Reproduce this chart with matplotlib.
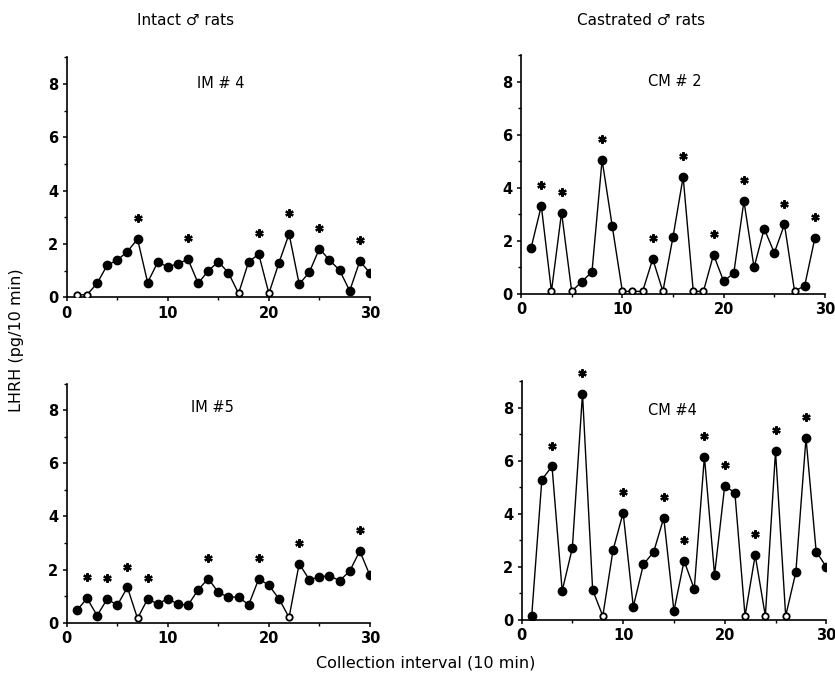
import matplotlib
matplotlib.use("Agg")
import numpy as np
import matplotlib.pyplot as plt
from matplotlib.transforms import offset_copy
from matplotlib.ticker import MultipleLocator

# LHRH release per 10 min collection interval
im4_x = list(range(1, 31))
im4_y = [0.1, 0.1, 0.53, 1.21, 1.40, 1.72, 2.19, 0.56, 1.32, 1.15,
         1.26, 1.43, 0.53, 1.00, 1.34, 0.92, 0.15, 1.34, 1.62, 0.15,
         1.30, 2.38, 0.50, 0.94, 1.83, 1.40, 1.02, 0.25, 1.36, 0.92]
im4_open = [1, 2, 17, 20]
im4_peaks = [7, 12, 19, 22, 25, 29]

cm2_x = list(range(1, 30))
cm2_y = [1.75, 3.32, 0.1, 3.07, 0.1, 0.47, 0.83, 5.05, 2.56, 0.1,
         0.1, 0.1, 1.32, 0.1, 2.15, 4.41, 0.1, 0.1, 1.48, 0.48,
         0.79, 3.50, 1.00, 2.46, 1.55, 2.62, 0.1, 0.32, 2.10]
cm2_open = [3, 5, 10, 11, 12, 14, 17, 18, 27]
cm2_peaks = [2, 4, 8, 13, 16, 19, 22, 26, 29]

im5_x = list(range(1, 31))
im5_y = [0.46, 0.92, 0.27, 0.89, 0.66, 1.33, 0.16, 0.89, 0.71, 0.90,
         0.70, 0.66, 1.24, 1.66, 1.14, 0.96, 0.97, 0.67, 1.65, 1.41,
         0.90, 0.20, 2.22, 1.62, 1.72, 1.77, 1.58, 1.94, 2.70, 1.78]
im5_open = [7, 22]
im5_peaks = [2, 4, 6, 8, 14, 19, 23, 29]

cm4_x = list(range(1, 31))
cm4_y = [0.15, 5.29, 5.79, 1.10, 2.71, 8.53, 1.13, 0.15, 2.62, 4.04,
         0.50, 2.10, 2.56, 3.85, 0.34, 2.23, 1.17, 6.16, 1.70, 5.06,
         4.79, 0.15, 2.44, 0.15, 6.36, 0.15, 1.80, 6.86, 2.58, 2.00]
cm4_open = [8, 22, 24, 26]
cm4_peaks = [3, 6, 10, 14, 16, 18, 20, 23, 25, 28]

panels = [
    ("IM # 4", im4_x, im4_y, im4_open, im4_peaks, [0.080, 0.5606, 0.363, 0.355], (15.2, 8.0)),
    ("CM # 2", cm2_x, cm2_y, cm2_open, cm2_peaks, [0.624, 0.5657, 0.364, 0.353], (15.2, 8.0)),
    ("IM #5", im5_x, im5_y, im5_open, im5_peaks, [0.080, 0.0802, 0.363, 0.3533], (14.4, 8.1)),
    ("CM #4", cm4_x, cm4_y, cm4_open, cm4_peaks, [0.6246, 0.0842, 0.365, 0.3528], (14.9, 7.9)),
]

fig = plt.figure(figsize=(8.35, 6.77), dpi=100)

for name, xs, ys, opn, peaks, rect, lab in panels:
    ax = fig.add_axes(rect)
    ax.plot(xs, ys, color="black", lw=1.0, zorder=2)
    xs_f = [x for x in xs if x not in opn]
    ys_f = [y for x, y in zip(xs, ys) if x not in opn]
    ax.plot(xs_f, ys_f, ls="none", marker="o", ms=6, color="black", zorder=3)
    ys_o = [ys[xs.index(x)] for x in opn]
    ax.plot(opn, ys_o, ls="none", marker="o", ms=4.6, mfc="white", mec="black",
            mew=1.3, zorder=4)
    # asterisks above the peaks
    trans = offset_copy(ax.transData, fig=fig, x=0, y=15, units="points")
    ys_p = [ys[xs.index(x)] for x in peaks]
    ax.plot(peaks, ys_p, ls="none", marker=(6, 2, 0), ms=6, mew=1.6,
            color="black", transform=trans, clip_on=False)
    ax.text(lab[0], lab[1], name, ha="center", va="center", fontsize=10.5)

    ax.set_xlim(0, 30)
    ax.set_ylim(0, 9)
    ax.set_xticks([0, 10, 20, 30])
    ax.set_yticks([0, 2, 4, 6, 8])
    ax.xaxis.set_minor_locator(MultipleLocator(5))
    ax.yaxis.set_minor_locator(MultipleLocator(1))
    for s in ["top", "right"]:
        ax.spines[s].set_visible(False)
    ax.spines["left"].set_linewidth(1.2)
    ax.spines["bottom"].set_linewidth(1.2)
    ax.tick_params(which="major", direction="out", length=3, width=1.1,
                   labelsize=10.5, pad=3)
    ax.tick_params(which="minor", direction="out", length=2, width=1)
    for t in ax.get_xticklabels() + ax.get_yticklabels():
        t.set_fontweight("bold")

fig.text(0.222, 0.970, "Intact \u2642 rats", ha="center", va="center", fontsize=11)
fig.text(0.768, 0.970, "Castrated \u2642 rats", ha="center", va="center", fontsize=11)
fig.text(0.020, 0.497, "LHRH (pg/10 min)", rotation=90, ha="center", va="center",
         fontsize=11.5)
fig.text(0.510, 0.021, "Collection interval (10 min)", ha="center", va="center",
         fontsize=11.5)

fig.savefig("out.png", dpi=100)
